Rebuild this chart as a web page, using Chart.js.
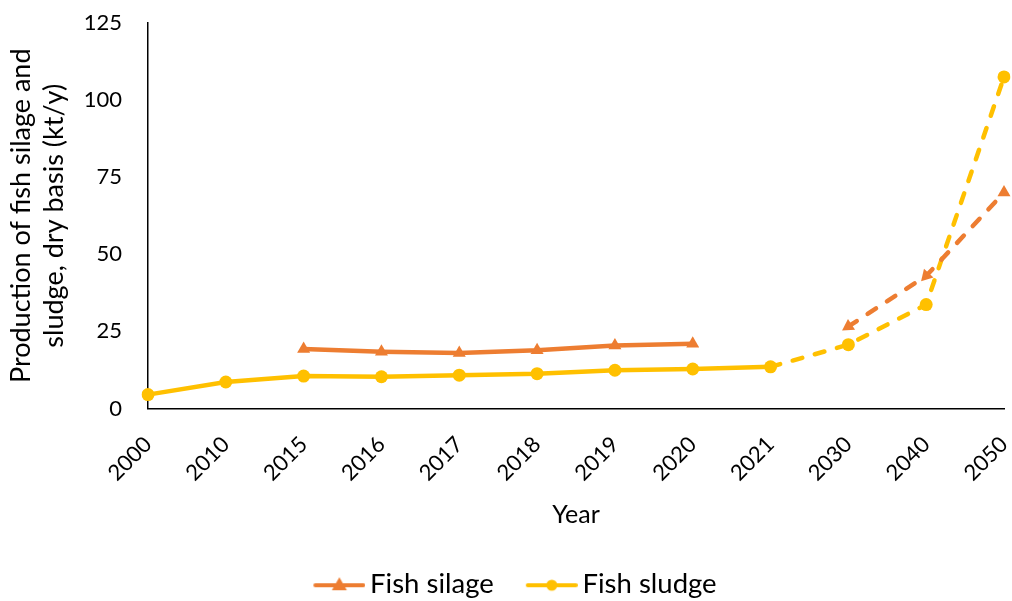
<!DOCTYPE html>
<html>
<head>
<meta charset="utf-8">
<script src="https://cdn.jsdelivr.net/npm/chart.js@4.4.0/dist/chart.umd.min.js"></script>
<style>
    html, body { margin: 0; padding: 0; background: #fff; }
    #wrap { width: 1012px; height: 601px; }
</style>
</head>
<body>
<div id="wrap"><canvas id="chart" width="1012" height="601"></canvas></div>
<script>
// Chart data
const years = ["2000", "2010", "2015", "2016", "2017", "2018", "2019", "2020", "2021", "2030", "2040", "2050"];
const fishSilage = [null, null, 19.3, 18.4, 18.0, 18.9, 20.4, 21.0, null, 26.6, 43.0, 70.0];
const fishSludge = [4.5, 8.6, 10.5, 10.3, 10.8, 11.3, 12.4, 12.8, 13.5, 20.7, 33.7, 107.5];
const yTicks = [0, 25, 50, 75, 100, 125];

const silageColor = "#ED7D31";
const sludgeColor = "#FFC000";
const fontFamily = "Lato, 'Open Sans', sans-serif";

// Line + marker picture for the legend (blank margin on the left spaces the items)
const iconMargin = 35;
function legendIcon(color, shape) {
    const c = document.createElement("canvas");
    c.width = iconMargin + 52;
    c.height = 18;
    const g = c.getContext("2d");
    const mid = iconMargin + 26;
    g.strokeStyle = color;
    g.fillStyle = color;
    g.lineWidth = 4;
    g.lineCap = "round";
    g.beginPath();
    g.moveTo(iconMargin + 2, 10);
    g.lineTo(iconMargin + 50, 10);
    g.stroke();
    g.beginPath();
    if (shape === "triangle") {
        g.moveTo(mid, 2);
        g.lineTo(mid + 7.5, 15);
        g.lineTo(mid - 7.5, 15);
        g.closePath();
    } else {
        g.arc(mid, 10, 5.5, 0, Math.PI * 2);
    }
    g.fill();
    return c;
}

// Arrow heads on the projected silage points
const silageRotation = [0, 0, 0, 0, 0, 0, 0, 0, 0, 237, 223, 0];

const dashedFrom = (start) => (ctx) => ctx.p0DataIndex >= start ? [10, 13] : undefined;

new Chart(document.getElementById("chart"), {
    type: "line",
    data: {
        labels: years,
        datasets: [
            {
                label: "Fish silage",
                data: fishSilage,
                borderColor: silageColor,
                backgroundColor: silageColor,
                borderWidth: 4.5,
                borderCapStyle: "round",
                pointStyle: "triangle",
                pointRadius: 7.5,
                pointRotation: silageRotation,
                pointBorderWidth: 0,
                spanGaps: false,
                segment: { borderDash: dashedFrom(9) }
            },
            {
                label: "Fish sludge",
                data: fishSludge,
                borderColor: sludgeColor,
                backgroundColor: sludgeColor,
                borderWidth: 4.5,
                borderCapStyle: "round",
                pointStyle: "circle",
                pointRadius: 6.5,
                pointBorderWidth: 0,
                segment: { borderDash: dashedFrom(8) }
            }
        ]
    },
    options: {
        responsive: false,
        animation: false,
        layout: { padding: { top: 23, right: 8, left: 0, bottom: -7 } },
        plugins: {
            legend: {
                position: "bottom",
                labels: {
                    usePointStyle: true,
                    pointStyleWidth: iconMargin + 34,
                    generateLabels: () => [
                        { text: "Fish silage", pointStyle: legendIcon(silageColor, "triangle"), datasetIndex: 0, fontColor: "#000", lineWidth: 0, strokeStyle: "transparent" },
                        { text: "Fish sludge", pointStyle: legendIcon(sludgeColor, "circle"), datasetIndex: 1, fontColor: "#000", lineWidth: 0, strokeStyle: "transparent" }
                    ],
                    font: { family: fontFamily, size: 27.5 },
                    color: "#000",
                    padding: 6
                }
            },
            tooltip: { enabled: false }
        },
        scales: {
            x: {
                offset: false,
                afterFit: (s) => { s.height = 156; s.paddingRight = 0; s.paddingLeft = 0; },
                grid: { display: false, drawTicks: true, tickLength: 8, color: "#000" },
                border: { color: "#000", width: 1.5 },
                ticks: {
                    color: "#000",
                    font: { family: fontFamily, size: 22 },
                    maxRotation: 45,
                    minRotation: 45,
                    autoSkip: false,
                    padding: 15
                },
                title: {
                    display: true,
                    text: "Year",
                    color: "#000",
                    font: { family: fontFamily, size: 25 },
                    padding: { top: 8, bottom: 35 }
                }
            },
            y: {
                min: 0,
                max: 125,
                afterBuildTicks: (scale) => { scale.ticks = yTicks.map(v => ({ value: v })); },
                afterFit: (s) => { s.width = 148; s.paddingTop = 0; s.paddingBottom = 0; },
                grid: { display: false, drawTicks: true, tickLength: 9, color: "#000" },
                border: { color: "#000", width: 1.5 },
                ticks: {
                    color: "#000",
                    font: { family: fontFamily, size: 22 },
                    padding: 17
                },
                title: {
                    display: true,
                    text: ["Production of fish silage and", "sludge, dry basis (kt/y)"],
                    color: "#000",
                    font: { family: fontFamily, size: 27, lineHeight: 1.22 },
                    padding: { top: 5, bottom: 6 }
                }
            }
        }
    }
});
</script>
</body>
</html>
